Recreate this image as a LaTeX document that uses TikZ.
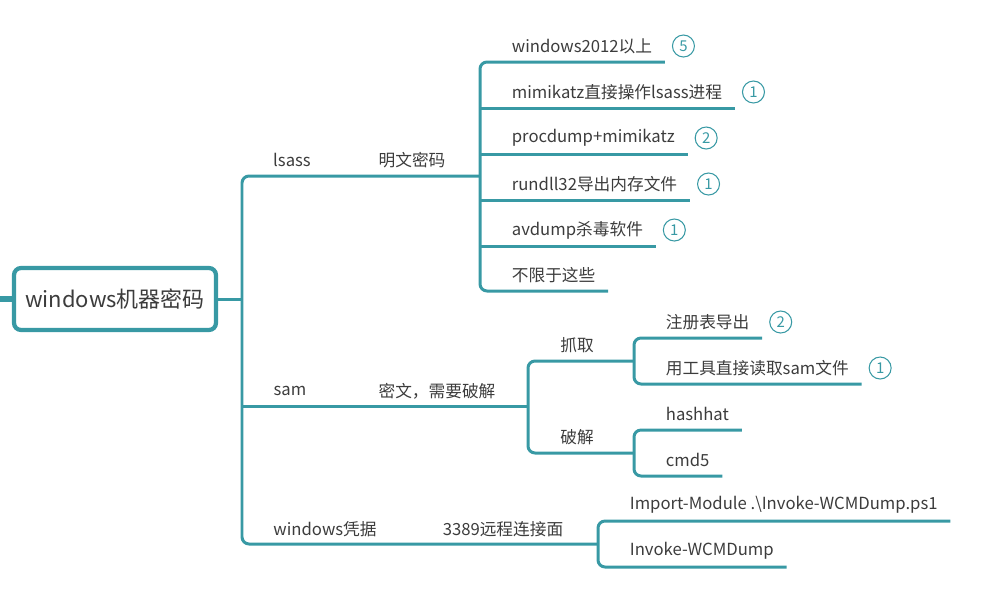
\documentclass[tikz,border=0pt]{standalone}
\usepackage{fontspec}
\setmainfont{Noto Sans CJK SC}
\usetikzlibrary{positioning}
\definecolor{verde}{RGB}{56,153,164}
\definecolor{texto}{RGB}{60,60,60}

\begin{document}
\begin{tikzpicture}[x=0.02cm, y=-0.02cm,
        rama/.style={draw=verde, line width=1.7pt, rounded corners=4pt},
        raiz/.style={draw=verde, line width=2.4pt, rounded corners=4pt, fill=white,
            minimum width=4.04cm, minimum height=1.24cm, text=texto,
            font=\fontsize{12.5}{15}\selectfont},
        etq/.style={inner sep=2pt, text=texto, font=\fontsize{9.5}{11}\selectfont},
        hoja/.style={etq, anchor=west},
        num/.style={circle, draw=verde, line width=0.6pt, minimum size=0.44cm,
            inner sep=0pt, text=verde, font=\fontsize{8.5}{10}\selectfont}]
        \useasboundingbox (0,0) rectangle (1003,593);

        % Raiz
        \node[raiz] (raiz) at (115,299) {windows机器密码};
        \draw[verde, line width=3.5pt] (0,299) -- (raiz.west);
        \coordinate (tronco) at (242,299);
        \draw[rama] (raiz.east) -- (tronco);

        % Ramas principales
        \coordinate (b1) at (480,176);
        \coordinate (b2) at (528,406);
        \coordinate (b3) at (598,544);
        \draw[rama] (b1) -- (242,176) -- (242,544) -- (b3);
        \draw[rama] (242,406) -- (b2);
        \node[etq] (lsass) at (292,160) {lsass};
        \node[etq] (mingwen) at (412,160) {明文密码};
        \node[etq] (sam) at (290,391) {sam};
        \node[etq] (miwen) at (437,391) {密文，需要破解};
        \node[etq] (cred) at (325,529) {windows凭据};
        \node[etq] (rdp) at (503,529) {3389远程连接面};

        % lsass
        \foreach \y/\t/\n [count=\i] in {62/windows2012以上/5, 108/mimikatz直接操作lsass进程/1,
                154/procdump+mimikatz/2, 200/rundll32导出内存文件/1, 246/avdump杀毒软件/1} {
            \node[hoja] (ls\i) at (508,\y-16) {\t};
            \node[num, right=0.32cm of ls\i] (n\i) {\n};
            \path (ls\i.east) ++(9,16) coordinate (e\i);
        }
        \node[hoja] (ls6) at (508,275) {不限于这些};
        \path (ls6.east) ++(9,16) coordinate (e6);
        \draw[rama] (e1) -- (b1 |- e1) -- (b1 |- e6) -- (e6);
        \foreach \i in {2,...,5}
            \draw[rama] (b1 |- e\i) -- (e\i);

        % sam
        \node[etq] (zhuaqu) at (577,345) {抓取};
        \node[etq] (pojie) at (577,437) {破解};
        \coordinate (c1) at (634,361);
        \coordinate (c2) at (634,453);
        \draw[rama] (c1) -- (b2 |- c1) -- (b2 |- c2) -- (c2);

        \node[hoja] (zq1) at (662,322) {注册表导出};
        \node[num, right=0.32cm of zq1] (m1) {2};
        \node[hoja] (zq2) at (662,368) {用工具直接读取sam文件};
        \node[num, right=0.32cm of zq2] (m2) {1};
        \path (zq1.east) ++(9,16) coordinate (f1);
        \path (zq2.east) ++(9,16) coordinate (f2);
        \draw[rama] (f1) -- (c1 |- f1) -- (c1 |- f2) -- (f2);

        \node[hoja] (pj1) at (662,414) {hashhat};
        \node[hoja] (pj2) at (662,460) {cmd5};
        \path (pj1.east) ++(9,16) coordinate (g1);
        \path (pj2.east) ++(9,16) coordinate (g2);
        \draw[rama] (g1) -- (c2 |- g1) -- (c2 |- g2) -- (g2);

        % windows凭据
        \node[hoja] (wc1) at (626,505) {Import-Module .\textbackslash Invoke-WCMDump.ps1};
        \node[hoja] (wc2) at (626,551) {Invoke-WCMDump};
        \path (wc1.east) ++(9,16) coordinate (h1);
        \path (wc2.east) ++(9,16) coordinate (h2);
        \draw[rama] (h1) -- (b3 |- h1) -- (b3 |- h2) -- (h2);
    \end{tikzpicture}
\end{document}
